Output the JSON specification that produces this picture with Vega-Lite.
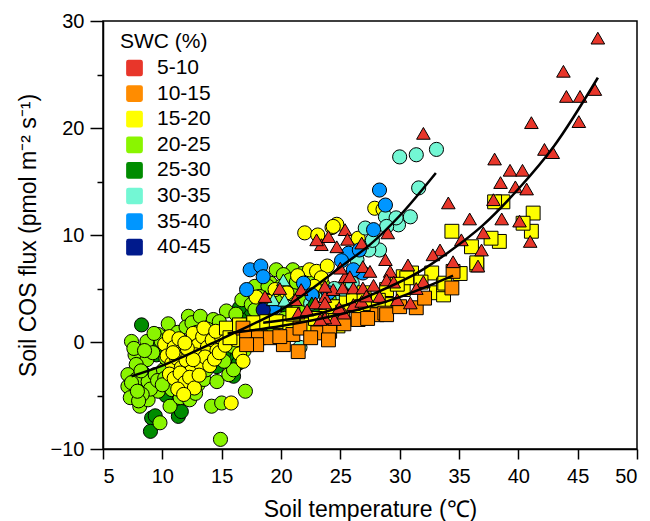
{
  "$schema": "https://vega.github.io/schema/vega-lite/v6.json",
  "width": 534,
  "height": 428,
  "autosize": "none",
  "padding": {"left": 103, "top": 21, "right": 13, "bottom": 72},
  "background": "white",
  "datasets": {
    "pts": [
      {"t":8.25,"f":1.6,"s":"25-30","g":"c"},{"t":8.8,"f":-0.1,"s":"25-30","g":"c"},{"t":8.4,"f":-2.9,"s":"25-30","g":"c"},{"t":8.1,"f":-4.3,"s":"25-30","g":"c"},{"t":9.1,"f":-7.1,"s":"25-30","g":"c"},{"t":9.0,"f":-8.35,"s":"25-30","g":"c"},{"t":11.35,"f":-5.4,"s":"25-30","g":"c"},{"t":11.35,"f":-6.95,"s":"25-30","g":"c"},{"t":14.6,"f":-2.3,"s":"25-30","g":"c"},{"t":15.7,"f":-1.35,"s":"25-30","g":"c"},{"t":16.4,"f":-2.0,"s":"25-30","g":"c"},{"t":15.2,"f":-1.0,"s":"25-30","g":"c"},{"t":16.1,"f":1.4,"s":"25-30","g":"c"},{"t":16.8,"f":2.4,"s":"25-30","g":"c"},{"t":17.5,"f":2.9,"s":"25-30","g":"c"},{"t":17.9,"f":1.8,"s":"25-30","g":"c"},{"t":18.3,"f":3.4,"s":"25-30","g":"c"},{"t":19.0,"f":2.6,"s":"25-30","g":"c"},{"t":16.5,"f":3.2,"s":"25-30","g":"c"},{"t":12.0,"f":-3.9,"s":"25-30","g":"c"},{"t":10.3,"f":-5.0,"s":"25-30","g":"c"},{"t":9.5,"f":-1.2,"s":"25-30","g":"c"},{"t":8.0,"f":-0.9,"s":"25-30","g":"c"},{"t":10.4,"f":0.5,"s":"25-30","g":"c"},{"t":11.6,"f":-6.5,"s":"25-30","g":"c"},{"t":9.4,"f":-6.9,"s":"25-30","g":"c"},{"t":17.1,"f":0.1,"s":"25-30","g":"c"},{"t":18.6,"f":1.2,"s":"25-30","g":"c"},{"t":19.8,"f":3.5,"s":"25-30","g":"c"},{"t":20.6,"f":3.0,"s":"25-30","g":"c"},{"t":22.0,"f":2.3,"s":"25-30","g":"c"},{"t":23.3,"f":1.3,"s":"25-30","g":"c"},{"t":13.1,"f":-1.1,"s":"25-30","g":"c"},{"t":16.0,"f":-3.2,"s":"25-30","g":"c"},{"t":9.1,"f":0.05,"s":"25-30","g":"c"},{"t":20.8,"f":1.6,"s":"25-30","g":"c"},{"t":19.6,"f":0.6,"s":"25-30","g":"c"},{"t":22.7,"f":2.9,"s":"25-30","g":"c"},
      {"t":7.4,"f":0.05,"s":"20-25","g":"c"},{"t":8.7,"f":0.05,"s":"20-25","g":"c"},{"t":9.65,"f":0.7,"s":"20-25","g":"c"},{"t":10.8,"f":1.0,"s":"20-25","g":"c"},{"t":12.2,"f":2.4,"s":"20-25","g":"c"},{"t":7.7,"f":-1.2,"s":"20-25","g":"c"},{"t":8.7,"f":-1.65,"s":"20-25","g":"c"},{"t":7.8,"f":-2.1,"s":"20-25","g":"c"},{"t":7.1,"f":-3.05,"s":"20-25","g":"c"},{"t":7.8,"f":-3.5,"s":"20-25","g":"c"},{"t":7.1,"f":-4.15,"s":"20-25","g":"c"},{"t":7.3,"f":-5.2,"s":"20-25","g":"c"},{"t":8.1,"f":-6.0,"s":"20-25","g":"c"},{"t":8.8,"f":-5.4,"s":"20-25","g":"c"},{"t":9.65,"f":-4.6,"s":"20-25","g":"c"},{"t":8.8,"f":-3.7,"s":"20-25","g":"c"},{"t":9.4,"f":-3.05,"s":"20-25","g":"c"},{"t":10.1,"f":-2.6,"s":"20-25","g":"c"},{"t":10.8,"f":-4.45,"s":"20-25","g":"c"},{"t":10.65,"f":-6.0,"s":"20-25","g":"c"},{"t":9.8,"f":-7.55,"s":"20-25","g":"c"},{"t":13.0,"f":-4.0,"s":"20-25","g":"c"},{"t":14.15,"f":-6.0,"s":"20-25","g":"c"},{"t":7.6,"f":-0.6,"s":"20-25","g":"c"},{"t":8.2,"f":-2.7,"s":"20-25","g":"c"},{"t":9.2,"f":-1.0,"s":"20-25","g":"c"},{"t":9.9,"f":0.1,"s":"20-25","g":"c"},{"t":10.3,"f":-1.5,"s":"20-25","g":"c"},{"t":9.0,"f":-4.4,"s":"20-25","g":"c"},{"t":7.4,"f":-3.8,"s":"20-25","g":"c"},{"t":8.3,"f":-4.9,"s":"20-25","g":"c"},{"t":9.6,"f":-3.6,"s":"20-25","g":"c"},{"t":10.2,"f":-3.4,"s":"20-25","g":"c"},{"t":10.9,"f":-2.9,"s":"20-25","g":"c"},{"t":11.5,"f":-5.2,"s":"20-25","g":"c"},{"t":12.3,"f":-5.4,"s":"20-25","g":"c"},{"t":9.3,"f":0.8,"s":"20-25","g":"c"},{"t":10.5,"f":1.7,"s":"20-25","g":"c"},{"t":11.3,"f":0.9,"s":"20-25","g":"c"},{"t":8.0,"f":-5.5,"s":"20-25","g":"c"},{"t":12.0,"f":1.4,"s":"20-25","g":"c"},{"t":11.0,"f":-1.5,"s":"20-25","g":"c"},{"t":11.6,"f":-3.6,"s":"20-25","g":"c"},{"t":10.0,"f":-4.0,"s":"20-25","g":"c"},{"t":8.5,"f":-0.8,"s":"20-25","g":"c"},{"t":7.9,"f":-4.6,"s":"20-25","g":"c"},
      {"t":12.5,"f":1.8,"s":"20-25","g":"c"},{"t":13.2,"f":2.4,"s":"20-25","g":"c"},{"t":14.3,"f":2.1,"s":"20-25","g":"c"},{"t":15.4,"f":2.9,"s":"20-25","g":"c"},{"t":13.8,"f":1.2,"s":"20-25","g":"c"},{"t":12.8,"f":-4.8,"s":"20-25","g":"c"},{"t":13.5,"f":-3.5,"s":"20-25","g":"c"},{"t":14.6,"f":-3.7,"s":"20-25","g":"c"},{"t":15.6,"f":-3.05,"s":"20-25","g":"c"},{"t":15.0,"f":-5.7,"s":"20-25","g":"c"},{"t":17.0,"f":-4.6,"s":"20-25","g":"c"},{"t":14.9,"f":-9.1,"s":"20-25","g":"c"},{"t":16.0,"f":-2.6,"s":"20-25","g":"c"},{"t":15.2,"f":-1.8,"s":"20-25","g":"c"},{"t":16.6,"f":0.8,"s":"20-25","g":"c"},{"t":17.3,"f":1.6,"s":"20-25","g":"c"},{"t":15.9,"f":-0.4,"s":"20-25","g":"c"},{"t":16.9,"f":-0.8,"s":"20-25","g":"c"},{"t":18.0,"f":0.6,"s":"20-25","g":"c"},{"t":13.7,"f":-2.6,"s":"20-25","g":"c"},{"t":14.0,"f":0.5,"s":"20-25","g":"c"},{"t":12.9,"f":0.9,"s":"20-25","g":"c"},{"t":14.8,"f":1.9,"s":"20-25","g":"c"},{"t":16.2,"f":2.6,"s":"20-25","g":"c"},
      {"t":16.7,"f":3.95,"s":"20-25","g":"c"},{"t":17.8,"f":5.2,"s":"20-25","g":"c"},{"t":19.1,"f":5.5,"s":"20-25","g":"c"},{"t":19.6,"f":6.75,"s":"20-25","g":"c"},{"t":21.0,"f":6.75,"s":"20-25","g":"c"},{"t":20.2,"f":6.3,"s":"20-25","g":"c"},{"t":20.75,"f":5.8,"s":"20-25","g":"c"},{"t":18.9,"f":5.2,"s":"20-25","g":"c"},{"t":18.2,"f":4.25,"s":"20-25","g":"c"},{"t":21.8,"f":6.4,"s":"20-25","g":"c"},{"t":22.4,"f":5.6,"s":"20-25","g":"c"},{"t":19.8,"f":4.3,"s":"20-25","g":"c"},{"t":17.5,"f":3.5,"s":"20-25","g":"c"},{"t":20.9,"f":4.5,"s":"20-25","g":"c"},{"t":23.5,"f":5.4,"s":"20-25","g":"c"},{"t":22.8,"f":4.7,"s":"20-25","g":"c"},{"t":21.5,"f":3.2,"s":"20-25","g":"c"},{"t":20.3,"f":2.2,"s":"20-25","g":"c"},{"t":19.3,"f":1.5,"s":"20-25","g":"c"},{"t":18.7,"f":2.9,"s":"20-25","g":"c"},{"t":24.2,"f":3.8,"s":"20-25","g":"c"},{"t":17.8,"f":3.0,"s":"20-25","g":"c"},{"t":19.0,"f":3.9,"s":"20-25","g":"c"},{"t":20.0,"f":5.2,"s":"20-25","g":"c"},{"t":21.3,"f":5.6,"s":"20-25","g":"c"},{"t":22.0,"f":4.0,"s":"20-25","g":"c"},
      {"t":10.2,"f":-0.2,"s":"15-20","g":"c"},{"t":10.6,"f":0.5,"s":"15-20","g":"c"},{"t":11.0,"f":-0.5,"s":"15-20","g":"c"},{"t":11.4,"f":0.3,"s":"15-20","g":"c"},{"t":11.8,"f":-0.9,"s":"15-20","g":"c"},{"t":12.2,"f":0.0,"s":"15-20","g":"c"},{"t":12.6,"f":0.8,"s":"15-20","g":"c"},{"t":13.0,"f":-0.3,"s":"15-20","g":"c"},{"t":13.4,"f":0.5,"s":"15-20","g":"c"},{"t":13.8,"f":-0.5,"s":"15-20","g":"c"},{"t":14.2,"f":0.2,"s":"15-20","g":"c"},{"t":14.6,"f":-0.8,"s":"15-20","g":"c"},{"t":15.0,"f":0.4,"s":"15-20","g":"c"},{"t":10.4,"f":-1.3,"s":"15-20","g":"c"},{"t":10.8,"f":-2.0,"s":"15-20","g":"c"},{"t":11.2,"f":-1.5,"s":"15-20","g":"c"},{"t":11.6,"f":-2.4,"s":"15-20","g":"c"},{"t":12.0,"f":-1.7,"s":"15-20","g":"c"},{"t":12.4,"f":-2.8,"s":"15-20","g":"c"},{"t":12.8,"f":-1.2,"s":"15-20","g":"c"},{"t":13.2,"f":-2.0,"s":"15-20","g":"c"},{"t":13.6,"f":-1.4,"s":"15-20","g":"c"},{"t":14.0,"f":-2.2,"s":"15-20","g":"c"},{"t":14.4,"f":-1.6,"s":"15-20","g":"c"},{"t":14.8,"f":-1.0,"s":"15-20","g":"c"},{"t":10.6,"f":-3.0,"s":"15-20","g":"c"},{"t":11.0,"f":-3.4,"s":"15-20","g":"c"},{"t":11.5,"f":-2.9,"s":"15-20","g":"c"},{"t":11.9,"f":-3.8,"s":"15-20","g":"c"},{"t":12.3,"f":-3.3,"s":"15-20","g":"c"},{"t":12.7,"f":-4.3,"s":"15-20","g":"c"},{"t":13.1,"f":-3.1,"s":"15-20","g":"c"},{"t":11.3,"f":-4.4,"s":"15-20","g":"c"},{"t":11.8,"f":-4.9,"s":"15-20","g":"c"},{"t":12.1,"f":-0.6,"s":"15-20","g":"c"},{"t":13.5,"f":1.3,"s":"15-20","g":"c"},{"t":14.5,"f":1.0,"s":"15-20","g":"c"},{"t":15.3,"f":-0.3,"s":"15-20","g":"c"},{"t":15.8,"f":0.8,"s":"15-20","g":"c"},{"t":16.5,"f":-1.1,"s":"15-20","g":"c"},{"t":16.2,"f":0.2,"s":"15-20","g":"c"},{"t":16.8,"f":-1.8,"s":"15-20","g":"c"},{"t":15.8,"f":-5.7,"s":"15-20","g":"c"},{"t":12.6,"f":-1.65,"s":"15-20","g":"c"},{"t":11.9,"f":-0.1,"s":"15-20","g":"c"},{"t":10.9,"f":-1.0,"s":"15-20","g":"c"},
      {"t":22.0,"f":10.2,"s":"15-20","g":"c"},{"t":23.1,"f":10.0,"s":"15-20","g":"c"},{"t":24.3,"f":10.7,"s":"15-20","g":"c"},{"t":24.7,"f":11.0,"s":"15-20","g":"c"},{"t":24.4,"f":10.8,"s":"15-20","g":"c"},{"t":22.4,"f":6.75,"s":"15-20","g":"c"},{"t":23.0,"f":6.6,"s":"15-20","g":"c"},{"t":23.9,"f":7.1,"s":"15-20","g":"c"},{"t":23.4,"f":6.0,"s":"15-20","g":"c"},{"t":27.9,"f":12.5,"s":"15-20","g":"c"},{"t":28.6,"f":12.4,"s":"15-20","g":"c"},{"t":26.5,"f":9.7,"s":"15-20","g":"c"},{"t":21.4,"f":6.2,"s":"15-20","g":"c"},{"t":20.5,"f":4.6,"s":"15-20","g":"c"},{"t":19.5,"f":4.9,"s":"15-20","g":"c"},{"t":18.9,"f":3.8,"s":"15-20","g":"c"},{"t":22.8,"f":5.2,"s":"15-20","g":"c"},{"t":17.9,"f":4.2,"s":"15-20","g":"c"},{"t":25.6,"f":5.7,"s":"15-20","g":"c"},
      {"t":30.0,"f":17.3,"s":"30-35","g":"c"},{"t":31.4,"f":17.5,"s":"30-35","g":"c"},{"t":33.1,"f":18.0,"s":"30-35","g":"c"},{"t":31.6,"f":14.4,"s":"30-35","g":"c"},{"t":30.9,"f":11.7,"s":"30-35","g":"c"},{"t":29.9,"f":10.95,"s":"30-35","g":"c"},{"t":28.8,"f":11.7,"s":"30-35","g":"c"},{"t":29.7,"f":11.6,"s":"30-35","g":"c"},{"t":28.9,"f":10.8,"s":"30-35","g":"c"},{"t":27.1,"f":10.65,"s":"30-35","g":"c"},{"t":28.3,"f":8.6,"s":"30-35","g":"c"},{"t":27.4,"f":8.6,"s":"30-35","g":"c"},{"t":24.5,"f":5.0,"s":"30-35","g":"c"},{"t":25.2,"f":4.3,"s":"30-35","g":"c"},{"t":23.8,"f":4.2,"s":"30-35","g":"c"},{"t":26.0,"f":5.5,"s":"30-35","g":"c"},{"t":22.5,"f":3.6,"s":"30-35","g":"c"},{"t":27.7,"f":9.5,"s":"30-35","g":"c"},{"t":26.4,"f":7.7,"s":"30-35","g":"c"},{"t":21.6,"f":-0.5,"s":"30-35","g":"c"},
      {"t":17.4,"f":6.75,"s":"35-40","g":"c"},{"t":18.3,"f":7.1,"s":"35-40","g":"c"},{"t":18.5,"f":6.1,"s":"35-40","g":"c"},{"t":17.1,"f":4.9,"s":"35-40","g":"c"},{"t":21.9,"f":5.5,"s":"35-40","g":"c"},{"t":25.7,"f":8.3,"s":"35-40","g":"c"},{"t":28.3,"f":14.2,"s":"35-40","g":"c"},{"t":28.8,"f":12.8,"s":"35-40","g":"c"},{"t":27.8,"f":10.5,"s":"35-40","g":"c"},{"t":26.6,"f":8.6,"s":"35-40","g":"c"},{"t":26.9,"f":6.45,"s":"35-40","g":"c"},{"t":26.1,"f":6.75,"s":"35-40","g":"c"},{"t":22.6,"f":4.4,"s":"35-40","g":"c"},{"t":24.0,"f":4.6,"s":"35-40","g":"c"},{"t":19.4,"f":3.2,"s":"35-40","g":"c"},{"t":25.1,"f":7.6,"s":"35-40","g":"c"},
      {"t":18.5,"f":3.0,"s":"40-45","g":"c"},
      {"t":15.4,"f":1.3,"s":"15-20","g":"s"},{"t":15.7,"f":0.4,"s":"15-20","g":"s"},{"t":17.7,"f":1.8,"s":"15-20","g":"s"},{"t":18.8,"f":1.9,"s":"15-20","g":"s"},{"t":19.6,"f":1.9,"s":"15-20","g":"s"},{"t":20.75,"f":1.8,"s":"15-20","g":"s"},{"t":22.2,"f":1.6,"s":"15-20","g":"s"},{"t":24.8,"f":1.5,"s":"15-20","g":"s"},{"t":23.8,"f":2.4,"s":"15-20","g":"s"},{"t":24.4,"f":3.3,"s":"15-20","g":"s"},{"t":25.5,"f":3.65,"s":"15-20","g":"s"},{"t":26.1,"f":4.25,"s":"15-20","g":"s"},{"t":26.8,"f":3.3,"s":"15-20","g":"s"},{"t":27.35,"f":3.0,"s":"15-20","g":"s"},{"t":26.65,"f":2.85,"s":"15-20","g":"s"},{"t":27.5,"f":3.6,"s":"15-20","g":"s"},{"t":28.9,"f":4.9,"s":"15-20","g":"s"},{"t":29.2,"f":3.5,"s":"15-20","g":"s"},{"t":30.3,"f":4.9,"s":"15-20","g":"s"},{"t":30.3,"f":6.1,"s":"15-20","g":"s"},{"t":31.0,"f":6.45,"s":"15-20","g":"s"},{"t":30.6,"f":6.0,"s":"15-20","g":"s"},{"t":32.7,"f":6.45,"s":"15-20","g":"s"},{"t":33.1,"f":4.6,"s":"15-20","g":"s"},{"t":33.7,"f":4.4,"s":"15-20","g":"s"},{"t":33.7,"f":5.35,"s":"15-20","g":"s"},{"t":33.8,"f":5.5,"s":"15-20","g":"s"},{"t":36.5,"f":7.2,"s":"15-20","g":"s"},{"t":34.4,"f":10.35,"s":"15-20","g":"s"},{"t":38.4,"f":9.4,"s":"15-20","g":"s"},{"t":37.7,"f":9.7,"s":"15-20","g":"s"},{"t":41.25,"f":12.05,"s":"15-20","g":"s"},{"t":41.1,"f":10.35,"s":"15-20","g":"s"},{"t":40.4,"f":11.1,"s":"15-20","g":"s"},{"t":38.7,"f":13.1,"s":"15-20","g":"s"},{"t":38.0,"f":13.1,"s":"15-20","g":"s"},{"t":36.05,"f":8.9,"s":"15-20","g":"s"},{"t":36.5,"f":7.4,"s":"15-20","g":"s"},{"t":24.6,"f":2.0,"s":"15-20","g":"s"},{"t":21.0,"f":2.6,"s":"15-20","g":"s"},{"t":25.2,"f":2.8,"s":"15-20","g":"s"},{"t":28.2,"f":3.9,"s":"15-20","g":"s"},{"t":29.8,"f":5.4,"s":"15-20","g":"s"},{"t":31.8,"f":5.6,"s":"15-20","g":"s"},{"t":35.1,"f":6.4,"s":"15-20","g":"s"},{"t":22.9,"f":2.2,"s":"15-20","g":"s"},{"t":27.0,"f":4.6,"s":"15-20","g":"s"},{"t":16.5,"f":1.6,"s":"15-20","g":"s"},
      {"t":16.8,"f":1.3,"s":"10-15","g":"s"},{"t":17.1,"f":0.4,"s":"10-15","g":"s"},{"t":18.1,"f":0.4,"s":"10-15","g":"s"},{"t":19.1,"f":0.4,"s":"10-15","g":"s"},{"t":17.95,"f":-0.25,"s":"10-15","g":"s"},{"t":20.2,"f":-0.25,"s":"10-15","g":"s"},{"t":21.0,"f":0.7,"s":"10-15","g":"s"},{"t":21.45,"f":-0.9,"s":"10-15","g":"s"},{"t":19.9,"f":0.5,"s":"10-15","g":"s"},{"t":21.6,"f":1.3,"s":"10-15","g":"s"},{"t":23.1,"f":0.85,"s":"10-15","g":"s"},{"t":17.1,"f":-0.25,"s":"10-15","g":"s"},{"t":24.1,"f":1.0,"s":"10-15","g":"s"},{"t":28.1,"f":2.55,"s":"10-15","g":"s"},{"t":28.75,"f":2.7,"s":"10-15","g":"s"},{"t":31.4,"f":3.2,"s":"10-15","g":"s"},{"t":32.1,"f":4.1,"s":"10-15","g":"s"},{"t":34.4,"f":5.05,"s":"10-15","g":"s"},{"t":34.5,"f":6.6,"s":"10-15","g":"s"},{"t":28.9,"f":2.55,"s":"10-15","g":"s"},{"t":22.5,"f":0.4,"s":"10-15","g":"s"},{"t":25.3,"f":1.7,"s":"10-15","g":"s"},{"t":26.5,"f":2.1,"s":"10-15","g":"s"},{"t":24.0,"f":0.2,"s":"10-15","g":"s"},{"t":30.0,"f":3.3,"s":"10-15","g":"s"},{"t":27.3,"f":2.2,"s":"10-15","g":"s"},
      {"t":20.2,"f":5.8,"s":"30-35","g":"t"},{"t":19.35,"f":3.95,"s":"30-35","g":"t"},{"t":20.3,"f":3.9,"s":"30-35","g":"t"},{"t":22.6,"f":3.65,"s":"25-30","g":"t"},
      {"t":18.65,"f":4.25,"s":"5-10","g":"t"},{"t":19.9,"f":5.0,"s":"5-10","g":"t"},{"t":21.7,"f":4.9,"s":"5-10","g":"t"},{"t":21.2,"f":3.95,"s":"5-10","g":"t"},{"t":22.9,"f":3.65,"s":"5-10","g":"t"},{"t":23.7,"f":4.25,"s":"5-10","g":"t"},{"t":24.4,"f":4.9,"s":"5-10","g":"t"},{"t":25.2,"f":5.05,"s":"5-10","g":"t"},{"t":23.4,"f":9.1,"s":"5-10","g":"t"},{"t":24.7,"f":8.9,"s":"5-10","g":"t"},{"t":24.0,"f":9.85,"s":"5-10","g":"t"},{"t":25.4,"f":10.5,"s":"5-10","g":"t"},{"t":25.4,"f":6.1,"s":"5-10","g":"t"},{"t":25.6,"f":9.6,"s":"5-10","g":"t"},{"t":26.8,"f":9.25,"s":"5-10","g":"t"},{"t":29.0,"f":10.2,"s":"5-10","g":"t"},{"t":32.0,"f":19.5,"s":"5-10","g":"t"},{"t":34.1,"f":13.0,"s":"5-10","g":"t"},{"t":35.9,"f":11.5,"s":"5-10","g":"t"},{"t":38.0,"f":17.1,"s":"5-10","g":"t"},{"t":39.3,"f":16.05,"s":"5-10","g":"t"},{"t":40.35,"f":16.05,"s":"5-10","g":"t"},{"t":38.5,"f":14.9,"s":"5-10","g":"t"},{"t":39.75,"f":14.5,"s":"5-10","g":"t"},{"t":40.7,"f":14.3,"s":"5-10","g":"t"},{"t":37.9,"f":13.3,"s":"5-10","g":"t"},{"t":38.6,"f":11.5,"s":"5-10","g":"t"},{"t":40.1,"f":11.3,"s":"5-10","g":"t"},{"t":41.0,"f":9.4,"s":"5-10","g":"t"},{"t":41.1,"f":20.5,"s":"5-10","g":"t"},{"t":42.2,"f":18.0,"s":"5-10","g":"t"},{"t":42.9,"f":17.7,"s":"5-10","g":"t"},{"t":43.8,"f":25.3,"s":"5-10","g":"t"},{"t":44.05,"f":22.95,"s":"5-10","g":"t"},{"t":45.2,"f":22.95,"s":"5-10","g":"t"},{"t":46.45,"f":23.6,"s":"5-10","g":"t"},{"t":45.1,"f":20.6,"s":"5-10","g":"t"},{"t":46.7,"f":28.4,"s":"5-10","g":"t"},{"t":37.05,"f":10.2,"s":"5-10","g":"t"},{"t":35.2,"f":9.55,"s":"5-10","g":"t"},{"t":33.4,"f":8.6,"s":"5-10","g":"t"},{"t":36.9,"f":8.6,"s":"5-10","g":"t"},{"t":32.0,"f":5.65,"s":"5-10","g":"t"},{"t":32.8,"f":8.15,"s":"5-10","g":"t"},{"t":34.5,"f":7.5,"s":"5-10","g":"t"},{"t":36.6,"f":7.1,"s":"5-10","g":"t"},{"t":25.0,"f":6.9,"s":"5-10","g":"t"},{"t":25.8,"f":6.1,"s":"5-10","g":"t"},{"t":26.9,"f":7.05,"s":"5-10","g":"t"},{"t":27.5,"f":6.6,"s":"5-10","g":"t"},{"t":28.8,"f":7.7,"s":"5-10","g":"t"},{"t":29.2,"f":6.6,"s":"5-10","g":"t"},{"t":28.9,"f":5.8,"s":"5-10","g":"t"},{"t":30.7,"f":7.2,"s":"5-10","g":"t"},{"t":29.8,"f":3.95,"s":"5-10","g":"t"},{"t":30.9,"f":3.65,"s":"5-10","g":"t"},{"t":26.1,"f":5.05,"s":"5-10","g":"t"},{"t":26.9,"f":5.05,"s":"5-10","g":"t"},{"t":24.5,"f":2.1,"s":"5-10","g":"t"},{"t":23.7,"f":2.25,"s":"5-10","g":"t"},{"t":25.3,"f":2.7,"s":"5-10","g":"t"},{"t":26.1,"f":3.5,"s":"5-10","g":"t"},{"t":28.3,"f":4.25,"s":"5-10","g":"t"},{"t":26.8,"f":3.8,"s":"5-10","g":"t"},{"t":23.7,"f":3.65,"s":"5-10","g":"t"},{"t":23.7,"f":5.2,"s":"5-10","g":"t"},{"t":21.45,"f":2.7,"s":"5-10","g":"t"},{"t":23.3,"f":2.1,"s":"5-10","g":"t"},{"t":23.0,"f":9.55,"s":"5-10","g":"t"},{"t":22.2,"f":3.0,"s":"5-10","g":"t"},{"t":24.9,"f":3.2,"s":"5-10","g":"t"},{"t":27.2,"f":4.3,"s":"5-10","g":"t"},{"t":27.8,"f":5.3,"s":"5-10","g":"t"},{"t":29.5,"f":5.6,"s":"5-10","g":"t"},{"t":31.4,"f":5.0,"s":"5-10","g":"t"}
    ],
    "fits": [
      {"t":7.4,"f":-3.2,"k":"A"},{"t":10,"f":-2.2,"k":"A"},{"t":12.5,"f":-1.0,"k":"A"},{"t":15,"f":0.3,"k":"A"},{"t":17.5,"f":1.6,"k":"A"},{"t":20,"f":3.0,"k":"A"},{"t":22.5,"f":4.9,"k":"A"},{"t":25,"f":7.0,"k":"A"},{"t":27.5,"f":9.1,"k":"A"},{"t":30,"f":11.8,"k":"A"},{"t":33.05,"f":15.8,"k":"A"},
      {"t":15.5,"f":0.8,"k":"B"},{"t":20,"f":1.5,"k":"B"},{"t":25,"f":2.6,"k":"B"},{"t":30,"f":4.2,"k":"B"},{"t":34.5,"f":6.2,"k":"B"},
      {"t":18.5,"f":1.8,"k":"C"},{"t":23.7,"f":2.8,"k":"C"},{"t":28,"f":4.6,"k":"C"},{"t":31.7,"f":6.6,"k":"C"},{"t":34,"f":8.3,"k":"C"},{"t":37,"f":10.9,"k":"C"},{"t":40,"f":14.3,"k":"C"},{"t":43,"f":18.3,"k":"C"},{"t":46.7,"f":24.7,"k":"C"}
    ]
  },
  "layer": [
    {
      "mark": {"type": "rule", "color": "black", "strokeWidth": 1.3, "strokeDash": [22, 12]},
      "encoding": {"y": {"datum": 0, "type": "quantitative"}}
    },
    {
      "data": {"name": "pts"},
      "mark": {"type": "point", "filled": true, "stroke": "black", "strokeWidth": 1, "opacity": 1},
      "encoding": {
        "x": {"field": "t", "type": "quantitative"},
        "y": {"field": "f", "type": "quantitative"},
        "color": {
          "field": "s", "type": "nominal",
          "scale": {
            "domain": ["5-10", "10-15", "15-20", "20-25", "25-30", "30-35", "35-40", "40-45"],
            "range": ["#E8362A", "#FF8C00", "#FFFF00", "#8AF500", "#008C00", "#73F7D4", "#0096FF", "#001A8C"]
          },
          "legend": {
            "title": "SWC (%)",
            "orient": "none",
            "legendX": 17,
            "legendY": 10,
            "titleFont": "Liberation Sans",
            "titleFontSize": 21,
            "titleFontWeight": "normal",
            "titleColor": "black",
            "titlePadding": 5.5,
            "labelFont": "Liberation Sans",
            "labelFontSize": 21,
            "labelColor": "black",
            "labelOffset": 12,
            "symbolType": "M-1,-0.72Q-1,-1,-0.72,-1L0.72,-1Q1,-1,1,-0.72L1,0.72Q1,1,0.72,1L-0.72,1Q-1,1,-1,0.72Z",
            "symbolSize": 280,
            "symbolStrokeWidth": 0,
            "symbolOpacity": 1,
            "symbolOffset": 4,
            "rowPadding": 3.6
          }
        },
        "shape": {
          "field": "g", "type": "nominal",
          "scale": {"domain": ["c", "s", "t"], "range": ["circle", "square", "triangle-up"]},
          "legend": null
        },
        "size": {
          "field": "g", "type": "nominal",
          "scale": {"domain": ["c", "s", "t"], "range": [200, 185, 290]},
          "legend": null
        }
      }
    },
    {
      "data": {"name": "fits"},
      "mark": {"type": "line", "color": "black", "strokeWidth": 2.5, "interpolate": "monotone"},
      "encoding": {
        "x": {"field": "t", "type": "quantitative"},
        "y": {"field": "f", "type": "quantitative"},
        "detail": {"field": "k", "type": "nominal"}
      }
    }
  ],
  "encoding": {
    "x": {
      "field": "t", "type": "quantitative",
      "scale": {"domain": [5, 50], "nice": false, "zero": false},
      "axis": {
        "title": "Soil temperature (℃)",
        "values": [5, 10, 15, 20, 25, 30, 35, 40, 45, 50],
        "tickSize": 10,
        "labelPadding": 7,
        "titleX": 267,
        "titleY": 67,
        "titleBaseline": "alphabetic",
        "titleAlign": "center"
      }
    },
    "y": {
      "field": "f", "type": "quantitative",
      "scale": {"domain": [-10, 30], "nice": false, "zero": false},
      "axis": {
        "title": "Soil COS flux (pmol m⁻² s⁻¹)",
        "values": [-10, -5, 0, 5, 10, 15, 20, 25, 30],
        "tickSize": {"condition": {"test": "datum.value % 10 === 0", "value": 13}, "value": 6},
        "labelExpr": "datum.value % 10 === 0 ? datum.label : ''",
        "labelPadding": 6,
        "titleX": -75,
        "titleY": 214,
        "titleBaseline": "middle",
        "titleAlign": "center",
        "titleAngle": -90
      }
    }
  },
  "config": {
    "font": "Liberation Sans",
    "view": {"stroke": "black", "strokeWidth": 1.5},
    "axis": {
      "grid": false,
      "domainColor": "black",
      "domainWidth": 1.5,
      "tickColor": "black",
      "tickWidth": 1.5,
      "labelColor": "black",
      "titleColor": "black",
      "labelFont": "Liberation Sans",
      "titleFont": "Liberation Sans",
      "labelFontSize": 20,
      "titleFontSize": 23,
      "titleFontWeight": "normal"
    }
  }
}
